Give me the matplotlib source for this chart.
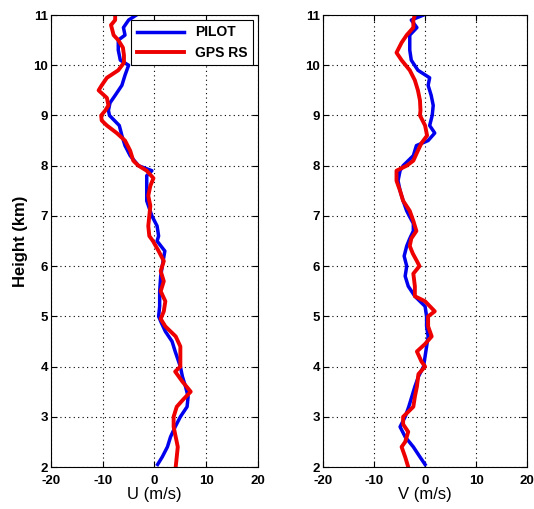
import matplotlib
matplotlib.use("Agg")
import matplotlib.pyplot as plt
import numpy as np

plt.rcParams['font.family'] = ['Liberation Sans', 'DejaVu Sans']
plt.rcParams['axes.unicode_minus'] = False

# U component (m/s) vs height (km)
h_u_pilot = [11.0, 10.9, 10.75, 10.6, 10.5, 10.3, 10.1, 10.0, 9.8, 9.6, 9.4, 9.25, 9.1, 9.0,
             8.8, 8.6, 8.4, 8.2, 8.0, 7.9, 7.8, 7.5, 7.3, 7.0, 6.8, 6.6, 6.5, 6.3, 6.0, 5.8,
             5.5, 5.2, 5.0, 4.9, 4.7, 4.5, 4.3, 4.0, 3.8, 3.6, 3.4, 3.2, 3.0, 2.8, 2.6, 2.4,
             2.2, 2.05]
u_pilot = [-3.5, -5.0, -6.0, -5.7, -7.0, -7.0, -6.6, -5.0, -5.7, -6.3, -7.6, -8.6, -8.9, -8.7,
           -6.8, -6.3, -5.7, -4.7, -3.1, -0.5, -1.5, -1.5, -1.5, -0.5, 0.5, 0.8, 0.5, 2.0, 1.5, 1.2,
           1.0, 1.0, 0.8, 1.2, 2.1, 3.4, 4.0, 5.0, 5.4, 6.0, 6.5, 6.3, 5.0, 4.0, 3.1, 2.5,
           1.5, 0.6]

h_u_gps = [11.0, 10.9, 10.8, 10.6, 10.5, 10.35, 10.2, 10.05, 9.9, 9.75, 9.6, 9.5, 9.35, 9.2,
           9.1, 9.0, 8.9, 8.8, 8.65, 8.5, 8.3, 8.1, 8.0, 7.9, 7.75, 7.6, 7.4, 7.2, 7.0, 6.8,
           6.6, 6.5, 6.3, 6.1, 5.9, 5.7, 5.5, 5.3, 5.1, 4.95, 4.8, 4.6, 4.4, 4.2, 4.0, 3.9,
           3.7, 3.5, 3.35, 3.2, 3.0, 2.8, 2.6, 2.4, 2.2, 2.0]
u_gps = [-7.6, -7.6, -8.4, -7.9, -7.0, -6.1, -5.9, -5.9, -7.0, -9.2, -10.2, -10.8, -9.2, -8.9,
         -9.5, -10.3, -10.2, -9.2, -7.3, -5.7, -4.7, -4.1, -3.1, -1.5, -0.2, -0.8, -1.2, -0.8, -1.0, -1.2,
         -1.0, -0.3, 0.8, 1.8, 1.2, 1.8, 1.2, 2.1, 1.8, 1.2, 2.1, 4.1, 5.0, 5.0, 5.0, 4.0,
         5.4, 7.0, 5.6, 4.3, 3.7, 3.7, 4.1, 4.5, 4.3, 4.1]

# V component (m/s) vs height (km)
h_v_pilot = [11.0, 10.9, 10.75, 10.6, 10.5, 10.3, 10.1, 9.9, 9.75, 9.6, 9.4, 9.2, 9.0, 8.8,
             8.65, 8.5, 8.4, 8.3, 8.2, 8.0, 7.9, 7.7, 7.5, 7.3, 7.1, 7.0, 6.85, 6.7, 6.55, 6.4,
             6.2, 6.0, 5.8, 5.6, 5.4, 5.2, 5.0, 4.8, 4.6, 4.4, 4.2, 4.0, 3.8, 3.6, 3.4, 3.2,
             3.0, 2.8, 2.6, 2.4, 2.2, 2.05]
v_pilot = [-0.3, -2.7, -1.6, -3.0, -3.0, -3.0, -2.7, -1.4, 0.9, 0.6, 1.2, 1.6, 1.4, 0.9,
           1.9, 0.6, -1.7, -2.0, -2.3, -4.3, -4.9, -5.3, -4.9, -4.3, -3.6, -3.1, -2.3, -2.3, -3.0, -3.6,
           -4.1, -3.6, -3.9, -3.3, -2.0, 0.0, 0.3, 0.3, 0.6, 0.3, 0.0, -0.3, -1.3, -2.0, -2.6, -3.2,
           -3.9, -4.9, -3.9, -2.3, -1.0, 0.0]

h_v_gps = [11.0, 10.9, 10.75, 10.6, 10.45, 10.25, 10.1, 9.9, 9.7, 9.5, 9.3, 9.1, 9.0, 8.8,
           8.6, 8.45, 8.3, 8.1, 8.0, 7.9, 7.7, 7.5, 7.3, 7.1, 6.9, 6.7, 6.55, 6.4, 6.25, 6.1,
           6.0, 5.85, 5.6, 5.4, 5.3, 5.1, 5.0, 4.8, 4.6, 4.45, 4.3, 4.1, 4.0, 3.85, 3.6, 3.4,
           3.2, 3.0, 2.85, 2.7, 2.5, 2.4, 2.2, 2.0]
v_gps = [-2.0, -2.3, -2.3, -3.6, -4.6, -5.6, -4.6, -3.0, -2.0, -1.4, -1.0, -0.9, -1.0, 0.0,
         0.4, -0.7, -1.4, -2.3, -3.6, -5.6, -5.6, -4.9, -4.3, -3.0, -2.3, -1.7, -2.7, -3.0, -2.4, -1.6,
         -1.1, -2.3, -2.0, -2.0, 0.0, 1.9, 0.6, 0.6, 1.3, 0.0, -1.6, -0.7, 0.0, -1.3, -1.6, -2.0,
         -2.3, -4.3, -4.3, -3.3, -3.9, -4.6, -3.9, -3.3]

xticks = [-20, -10, 0, 10, 20]
yticks = [2, 3, 4, 5, 6, 7, 8, 9, 10, 11]

fig = plt.figure(figsize=(5.34, 5.09), dpi=100)
ax1 = fig.add_axes([0.0955, 0.0825, 0.3876, 0.888])
ax2 = fig.add_axes([0.605, 0.0825, 0.382, 0.888])


def style(ax, xlabel):
    ax.set_xlim(-20, 20)
    ax.set_ylim(2, 11)
    ax.set_xticks(xticks)
    ax.set_yticks(yticks)
    ax.tick_params(direction='in', length=4, width=0.8, labelsize=9.5, pad=2,
                   top=True, right=True)
    ax.tick_params(axis='x', pad=6)
    for lab in ax.get_xticklabels() + ax.get_yticklabels():
        lab.set_fontweight('bold')
    ax.grid(True, color='black', linestyle=(0, (1, 3)), linewidth=0.8)
    ax.set_xlabel(xlabel, fontsize=12, labelpad=0)
    for s in ax.spines.values():
        s.set_linewidth(0.8)


ax1.plot(u_pilot, h_u_pilot, color='#0000ee', lw=2.5, label='PILOT')
ax1.plot(u_gps, h_u_gps, color='#ee0000', lw=2.8, label='GPS RS')
style(ax1, 'U (m/s)')
ax1.set_ylabel('Height (km)', fontsize=12, fontweight='bold', labelpad=4)
leg = ax1.legend(loc='upper right', fancybox=False, edgecolor='black', framealpha=1,
                 borderaxespad=0.35, handlelength=3.4, labelspacing=0.45,
                 prop={'weight': 'bold', 'size': 10})
leg.get_frame().set_linewidth(0.8)

ax2.plot(v_pilot, h_v_pilot, color='#0000ee', lw=2.5)
ax2.plot(v_gps, h_v_gps, color='#ee0000', lw=2.8)
style(ax2, 'V (m/s)')

fig.savefig('out.png', dpi=100)
